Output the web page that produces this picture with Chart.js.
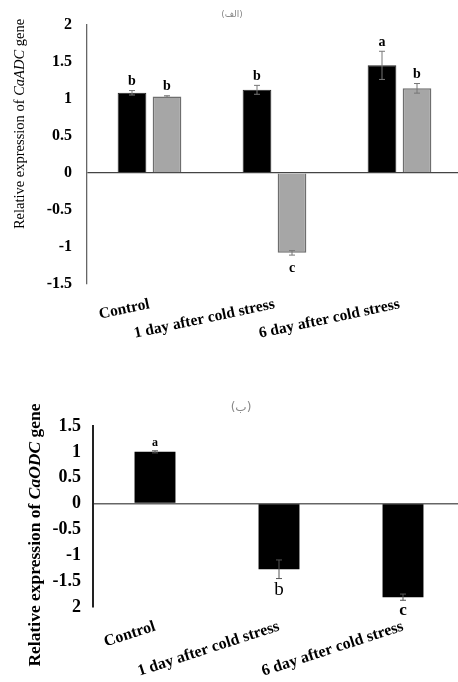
<!DOCTYPE html>
<html>
<head>
<meta charset="utf-8">
<script src="https://cdn.jsdelivr.net/npm/chart.js@4.4.0/dist/chart.umd.min.js"></script>
<style>
  html, body { margin: 0; padding: 0; background: #fff; overflow: hidden; width: 458px; height: 682px; }
  canvas { position: absolute; left: 0; }
  #adcChart { top: 0; }
  #odcChart { top: 340px; }
</style>
</head>
<body>
<canvas id="adcChart" width="462" height="340"></canvas>
<canvas id="odcChart" width="465" height="342"></canvas>
<script>
// categories shared by both panels
const categories = ['Control', '1 day after cold stress', '6 day after cold stress'];

// panel (الف) - CaADC, two series
const adcBlack = [1.08, 1.12, 1.45];
const adcBlackErr = [0.03, 0.06, 0.19];
const adcBlackLetters = ['b', 'b', 'a'];
const adcGray = [1.03, -1.08, 1.14];
const adcGrayErr = [0.01, 0.03, 0.065];
const adcGrayLetters = ['b', 'c', 'b'];
const adcTicks = [-1.5, -1, -0.5, 0, 0.5, 1, 1.5, 2];

// panel (ب) - CaODC, one series
const odcValues = [1.0, -1.27, -1.81];
const odcErr = [0.02, 0.18, 0.06];
const odcLetters = ['a', 'b', 'c'];
const odcTicks = [-2, -1.5, -1, -0.5, 0, 0.5, 1, 1.5];
const odcTickText = ['2', '-1.5', '-1', '-0.5', '0', '0.5', '1', '1.5'];

const SERIF = '"Liberation Serif", "DejaVu Serif", serif';

// error bars + significance letters
const errorBarPlugin = {
  id: 'errorBars',
  afterDatasetsDraw(chart, args, opts) {
    const ctx = chart.ctx;
    const y = chart.scales.y;
    chart.data.datasets.forEach((ds, di) => {
      const meta = chart.getDatasetMeta(di);
      meta.data.forEach((bar, i) => {
        const v = ds.data[i], e = ds.errors[i];
        const yTop = y.getPixelForValue(v + e);
        const yBot = y.getPixelForValue(v - e);
        ctx.save();
        ctx.strokeStyle = opts.color || '#666';
        ctx.lineWidth = 1;
        ctx.beginPath();
        ctx.moveTo(bar.x, yTop); ctx.lineTo(bar.x, yBot);
        ctx.moveTo(bar.x - 3, yTop); ctx.lineTo(bar.x + 3, yTop);
        ctx.moveTo(bar.x - 3, yBot); ctx.lineTo(bar.x + 3, yBot);
        ctx.stroke();
        // letter
        const fonts = opts.fonts || [];
        ctx.font = fonts[i] || opts.font;
        ctx.fillStyle = '#000';
        ctx.textAlign = 'center';
        if (v >= 0) {
          ctx.textBaseline = 'bottom';
          ctx.fillText(ds.letters[i], bar.x, yTop + (opts.upShift || 0));
        } else {
          ctx.textBaseline = 'top';
          ctx.fillText(ds.letters[i], bar.x, yBot + (opts.downShift || 6));
        }
        ctx.restore();
      });
    });
  }
};

// rotated y title with italic gene name, and small panel caption
const decorPlugin = {
  id: 'decor',
  afterDraw(chart, args, opts) {
    const ctx = chart.ctx;
    ctx.save();
    ctx.fillStyle = '#888';
    ctx.font = opts.captionFont;
    ctx.textAlign = 'center';
    ctx.textBaseline = 'middle';
    ctx.fillText(opts.caption, opts.captionX, opts.captionY);
    ctx.restore();

    const parts = opts.titleParts;
    ctx.save();
    ctx.translate(opts.titleX, opts.titleY);
    ctx.rotate(-Math.PI / 2);
    ctx.fillStyle = '#000';
    ctx.textBaseline = 'middle';
    let total = 0;
    parts.forEach(p => { ctx.font = p[1]; total += ctx.measureText(p[0]).width; });
    let x = -total / 2;
    parts.forEach(p => {
      ctx.font = p[1];
      ctx.textAlign = 'left';
      ctx.fillText(p[0], x, 0);
      x += ctx.measureText(p[0]).width;
    });
    ctx.restore();
  }
};

function zeroGrid(color) {
  return ctx => (ctx.tick && ctx.tick.value === 0) ? color : 'rgba(0,0,0,0)';
}

/* ---------- panel (الف) ---------- */
new Chart(document.getElementById('adcChart'), {
  type: 'bar',
  data: {
    labels: categories,
    datasets: [
      {
        data: adcBlack, errors: adcBlackErr, letters: adcBlackLetters,
        backgroundColor: '#000', borderColor: '#222', borderWidth: 1,
        categoryPercentage: 0.56, barPercentage: 0.82
      },
      {
        data: adcGray, errors: adcGrayErr, letters: adcGrayLetters,
        backgroundColor: '#a6a6a6', borderColor: '#6e6e6e', borderWidth: 1.5,
        categoryPercentage: 0.56, barPercentage: 0.82
      }
    ]
  },
  options: {
    responsive: false,
    animation: false,
    layout: { padding: { top: 17, left: 0, right: 0, bottom: 0 } },
    plugins: {
      legend: { display: false },
      tooltip: { enabled: false },
      errorBars: { font: 'bold 14px ' + SERIF, color: '#777', upShift: -2, downShift: 6 },
      decor: {
        caption: '(الف)', captionX: 232, captionY: 15, captionFont: '9px "DejaVu Sans", sans-serif',
        titleX: 20, titleY: 124,
        titleParts: [
          ['Relative expression of ', '14.5px ' + SERIF],
          ['CaADC', 'italic 14.5px ' + SERIF],
          [' gene', '14.5px ' + SERIF]
        ]
      }
    },
    scales: {
      x: {
        grid: { display: false },
        border: { display: false },
        ticks: {
          autoSkip: false, minRotation: 12, maxRotation: 12, padding: 3,
          color: '#000', font: { family: SERIF, size: 15.5, weight: 'bold' }
        },
        afterFit(s) { s.height = 56; }
      },
      y: {
        min: -1.5, max: 2,
        afterBuildTicks(s) { s.ticks = adcTicks.map(v => ({ value: v })); },
        grid: { color: zeroGrid('#444'), lineWidth: 1.3, drawTicks: false },
        border: { display: true, color: '#666', width: 1.3 },
        ticks: {
          padding: 15, color: '#000',
          font: { family: SERIF, size: 16, weight: 'bold' },
          callback: v => String(v)
        },
        afterFit(s) { s.width = 87; }
      }
    }
  },
  plugins: [errorBarPlugin, decorPlugin]
});

/* ---------- panel (ب) ---------- */
new Chart(document.getElementById('odcChart'), {
  type: 'bar',
  data: {
    labels: categories,
    datasets: [
      {
        data: odcValues, errors: odcErr, letters: odcLetters,
        backgroundColor: '#000', borderColor: '#000', borderWidth: 0,
        categoryPercentage: 0.33, barPercentage: 1.0
      }
    ]
  },
  options: {
    responsive: false,
    animation: false,
    layout: { padding: { top: 86, left: 0, right: 0, bottom: 0 } },
    plugins: {
      legend: { display: false },
      tooltip: { enabled: false },
      errorBars: {
        font: '17px ' + SERIF,
        fonts: ['bold 12px ' + SERIF, '19px ' + SERIF, 'bold 17px ' + SERIF],
        color: '#555', upShift: -2, downShift: 2
      },
      decor: {
        caption: '(ب)', captionX: 241, captionY: 68, captionFont: '12px "DejaVu Sans", sans-serif',
        titleX: 35, titleY: 195,
        titleParts: [
          ['Relative expression of ', 'bold 17.5px ' + SERIF],
          ['CaODC', 'bold italic 17.5px ' + SERIF],
          [' gene', 'bold 17.5px ' + SERIF]
        ]
      }
    },
    scales: {
      x: {
        grid: { display: false },
        border: { display: false },
        ticks: {
          autoSkip: false, minRotation: 18, maxRotation: 18, padding: 2,
          color: '#000', font: { family: SERIF, size: 16, weight: 'bold' }
        },
        afterFit(s) { s.height = 75; }
      },
      y: {
        min: -2, max: 1.5,
        afterBuildTicks(s) { s.ticks = odcTicks.map(v => ({ value: v })); },
        grid: { color: zeroGrid('#666'), lineWidth: 1.5, drawTicks: false },
        border: { display: true, color: '#222', width: 2 },
        ticks: {
          padding: 12, color: '#000',
          font: { family: SERIF, size: 18, weight: 'bold' },
          callback: (v) => odcTickText[odcTicks.indexOf(v)]
        },
        afterFit(s) { s.width = 93; }
      }
    }
  },
  plugins: [errorBarPlugin, decorPlugin]
});
</script>
</body>
</html>
